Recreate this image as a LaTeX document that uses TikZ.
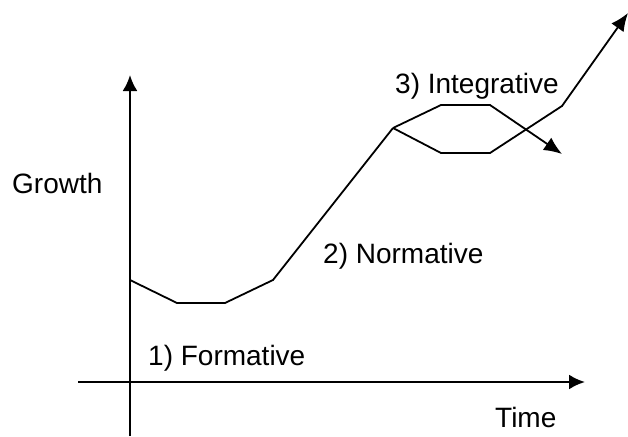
\documentclass[tikz,border=0pt]{standalone}
\usepackage{fontspec}
\setmainfont{Liberation Sans}
\usetikzlibrary{arrows.meta}

\begin{document}
\begin{tikzpicture}[x=1pt,y=-1pt,>=Latex,
    axis/.style={->,line width=2.4pt},
    growth/.style={line width=1.8pt,line join=miter},
    tip/.style={-{Latex[length=18pt,width=15pt]}},
    lbl/.style={anchor=base west,inner sep=0pt,font=\fontsize{28}{33}\selectfont}]
    \useasboundingbox (0,0) rectangle (628,436);

    % axes
    \draw[axis,-{Latex[length=16pt,width=15pt]}] (130,436) -- (130,75);
    \draw[axis,-{Latex[length=16pt,width=15pt]}] (78,382) -- (585,382);

    % curve points
    \coordinate (start) at (130,280);
    \coordinate (dip1) at (177,303);
    \coordinate (dip2) at (225,303);
    \coordinate (rise) at (273,280);
    \coordinate (peak) at (393,128);

    \draw[growth] (start) -- (dip1) -- (dip2) -- (rise) -- (peak);
    \draw[growth,tip] (peak) -- (441,105) -- (490,105) -- (562,154);
    \draw[growth,tip] (peak) -- (441,153) -- (490,153) -- (562,106) -- (628,13);

    % labels
    \node[lbl] (lblgrowth) at (12,193) {Growth};
    \node[lbl] (lbltime) at (495,427) {Time};
    \node[lbl] (lblform) at (148,365) {1) Formative};
    \node[lbl] (lblnorm) at (323,263) {2) Normative};
    \node[lbl] (lblint) at (395,93) {3) Integrative};
\end{tikzpicture}
\end{document}
